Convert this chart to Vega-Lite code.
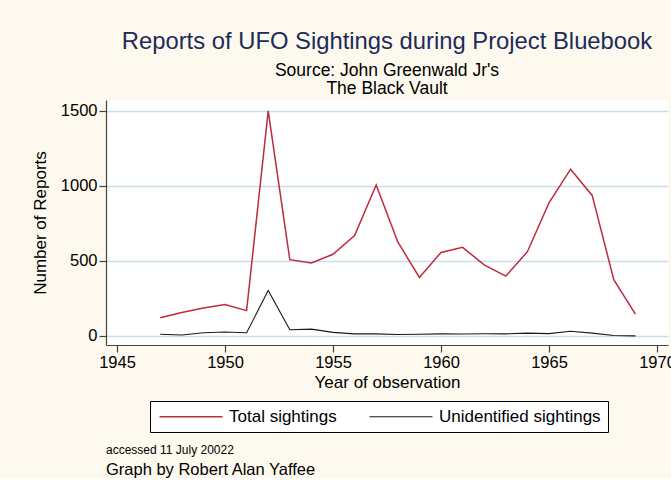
{
  "$schema": "https://vega.github.io/schema/vega-lite/v6.json",
  "background": "#FEF9EE",
  "autosize": {"type": "pad"},
  "padding": {"left": 31, "top": 29, "right": 0, "bottom": 0},
  "title": {
    "text": "accessed 11 July 20022",
    "subtitle": "Graph by Robert Alan Yaffee",
    "orient": "bottom",
    "anchor": "start",
    "frame": "group",
    "font": "Liberation Sans",
    "subtitleFont": "Liberation Sans",
    "fontSize": 12,
    "subtitleFontSize": 16.5,
    "fontWeight": "normal",
    "color": "black",
    "subtitleColor": "black",
    "offset": 12,
    "dx": 0,
    "subtitlePadding": 5
  },
  "vconcat": [
    {
      "title": {
        "text": "Reports of UFO Sightings during Project Bluebook",
        "subtitle": ["Source: John Greenwald Jr's", "The Black Vault"],
        "anchor": "middle",
        "frame": "group",
        "font": "Liberation Sans",
        "subtitleFont": "Liberation Sans",
        "fontSize": 23.8,
        "fontWeight": "normal",
        "color": "#1C2B5A",
        "subtitleFontSize": 17.5,
        "subtitleColor": "black",
        "subtitlePadding": 8,
        "subtitleLineHeight": 18,
        "offset": 3
      },
      "width": 562,
      "height": 245,
      "data": {
        "values": [
          {"year": 1947, "series": "Total sightings", "count": 122},
          {"year": 1948, "series": "Total sightings", "count": 156},
          {"year": 1949, "series": "Total sightings", "count": 186},
          {"year": 1950, "series": "Total sightings", "count": 210},
          {"year": 1951, "series": "Total sightings", "count": 169},
          {"year": 1952, "series": "Total sightings", "count": 1501},
          {"year": 1953, "series": "Total sightings", "count": 509},
          {"year": 1954, "series": "Total sightings", "count": 487},
          {"year": 1955, "series": "Total sightings", "count": 545},
          {"year": 1956, "series": "Total sightings", "count": 670},
          {"year": 1957, "series": "Total sightings", "count": 1006},
          {"year": 1958, "series": "Total sightings", "count": 627},
          {"year": 1959, "series": "Total sightings", "count": 390},
          {"year": 1960, "series": "Total sightings", "count": 557},
          {"year": 1961, "series": "Total sightings", "count": 591},
          {"year": 1962, "series": "Total sightings", "count": 474},
          {"year": 1963, "series": "Total sightings", "count": 399},
          {"year": 1964, "series": "Total sightings", "count": 562},
          {"year": 1965, "series": "Total sightings", "count": 887},
          {"year": 1966, "series": "Total sightings", "count": 1112},
          {"year": 1967, "series": "Total sightings", "count": 937},
          {"year": 1968, "series": "Total sightings", "count": 375},
          {"year": 1969, "series": "Total sightings", "count": 146},
          {"year": 1947, "series": "Unidentified sightings", "count": 12},
          {"year": 1948, "series": "Unidentified sightings", "count": 7},
          {"year": 1949, "series": "Unidentified sightings", "count": 22},
          {"year": 1950, "series": "Unidentified sightings", "count": 27},
          {"year": 1951, "series": "Unidentified sightings", "count": 22},
          {"year": 1952, "series": "Unidentified sightings", "count": 303},
          {"year": 1953, "series": "Unidentified sightings", "count": 42},
          {"year": 1954, "series": "Unidentified sightings", "count": 46},
          {"year": 1955, "series": "Unidentified sightings", "count": 24},
          {"year": 1956, "series": "Unidentified sightings", "count": 14},
          {"year": 1957, "series": "Unidentified sightings", "count": 14},
          {"year": 1958, "series": "Unidentified sightings", "count": 10},
          {"year": 1959, "series": "Unidentified sightings", "count": 12},
          {"year": 1960, "series": "Unidentified sightings", "count": 14},
          {"year": 1961, "series": "Unidentified sightings", "count": 13},
          {"year": 1962, "series": "Unidentified sightings", "count": 15},
          {"year": 1963, "series": "Unidentified sightings", "count": 14},
          {"year": 1964, "series": "Unidentified sightings", "count": 19},
          {"year": 1965, "series": "Unidentified sightings", "count": 16},
          {"year": 1966, "series": "Unidentified sightings", "count": 32},
          {"year": 1967, "series": "Unidentified sightings", "count": 19},
          {"year": 1968, "series": "Unidentified sightings", "count": 3},
          {"year": 1969, "series": "Unidentified sightings", "count": 1}
        ]
      },
      "mark": {"type": "line", "clip": true},
      "encoding": {
        "x": {
          "field": "year",
          "type": "quantitative",
          "scale": {"domain": [1944.49, 1970.51], "nice": false, "zero": false},
          "axis": {
            "title": "Year of observation",
            "values": [1945, 1950, 1955, 1960, 1965, 1970],
            "format": "d",
            "grid": false,
            "labelPadding": 2,
            "titlePadding": 4,
            "labelFlush": false
          }
        },
        "y": {
          "field": "count",
          "type": "quantitative",
          "scale": {"domain": [-60, 1573], "nice": false, "zero": false},
          "axis": {
            "title": "Number of Reports",
            "values": [0, 500, 1000, 1500],
            "format": "d",
            "grid": true,
            "gridColor": "#C8DFEA",
            "gridWidth": 1.6,
            "labelPadding": 2,
            "titlePadding": 11
          }
        },
        "color": {
          "field": "series",
          "type": "nominal",
          "scale": {"domain": ["Total sightings", "Unidentified sightings"], "range": ["#BE2A3E", "#1A1A1A"]},
          "legend": {
            "title": null,
            "orient": "none",
            "legendX": 44,
            "legendY": 301,
            "direction": "horizontal"
          }
        },
        "strokeWidth": {
          "field": "series",
          "type": "nominal",
          "scale": {"domain": ["Total sightings", "Unidentified sightings"], "range": [1.5, 1.1]},
          "legend": null
        }
      }
    }
  ],
  "config": {
    "view": {"fill": "white", "stroke": null},
    "axis": {
      "labelFont": "Liberation Sans",
      "titleFont": "Liberation Sans",
      "labelFontSize": 16.5,
      "titleFontSize": 17,
      "titleFontWeight": "normal",
      "labelColor": "black",
      "titleColor": "black",
      "domainColor": "#444444",
      "tickColor": "#444444",
      "tickSize": 7,
      "domainWidth": 1.2,
      "tickWidth": 1.2
    },
    "legend": {
      "labelFont": "Liberation Sans",
      "labelFontSize": 17,
      "labelColor": "black",
      "labelLimit": 400,
      "strokeColor": "black",
      "fillColor": "white",
      "padding": 7,
      "symbolType": "M-1,0H9.5",
      "symbolSize": 144,
      "symbolStrokeWidth": 1.5,
      "labelOffset": 55,
      "columnPadding": 30
    }
  }
}
